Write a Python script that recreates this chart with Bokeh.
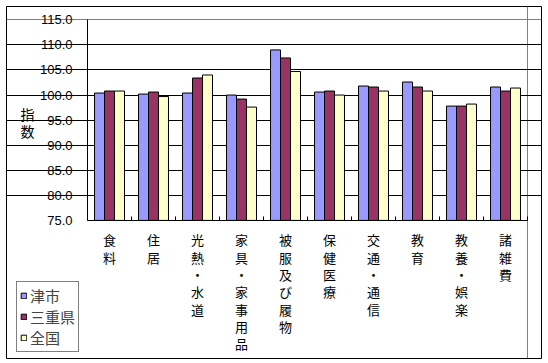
from bokeh.plotting import figure
from bokeh.models import FixedTicker, Legend, LegendItem, Label, Range1d, Grid
from bokeh.embed import file_html
from bokeh.resources import INLINE

categories = ["食料", "住居", "光熱・水道", "家具・家事用品", "被服及び履物",
              "保健医療", "交通・通信", "教育", "教養・娯楽", "諸雑費"]
tsu = [100.4, 100.2, 100.4, 100.0, 109.0, 100.6, 101.8, 102.6, 97.8, 101.6]
mie = [100.8, 100.6, 103.4, 99.2, 107.4, 100.8, 101.6, 101.6, 97.8, 100.8]
zenkoku = [100.8, 99.7, 104.0, 97.6, 104.7, 100.0, 100.8, 100.8, 98.2, 101.4]
series_names = ["津市", "三重県", "全国"]
series_colors = ["#9999FF", "#993366", "#FFFFCC"]
y_ticks = [75, 80, 85, 90, 95, 100, 105, 110, 115]
y_title = "指数"

JP = "Noto Sans CJK JP"
n = len(categories)
ymin, ymax = y_ticks[0], y_ticks[-1]

# frame = the outer bordered box; the plot area is placed inside it through the ranges
p = figure(width=545, height=360, output_backend="svg", toolbar_location=None,
           x_range=Range1d(-1.841, n + 0.318), y_range=Range1d(47.46, 117.66),
           min_border_left=6, min_border_right=4, min_border_top=6, min_border_bottom=2)

p.outline_line_color = "black"
p.outline_line_width = 1
p.border_fill_color = "white"

bw = 0.227
renderers = []
for k, (vals, col) in enumerate(zip([tsu, mie, zenkoku], series_colors)):
    xs = [i + 0.5 + (k - 1) * bw for i in range(n)]
    r = p.vbar(x=xs, top=vals, bottom=ymin, width=bw, fill_color=col,
               line_color="black", line_width=1)
    renderers.append(r)

# y axis, drawn at x = 0
ya = p.yaxis[0]
ya.fixed_location = 0
ya.bounds = (ymin, ymax)
ya.ticker = FixedTicker(ticks=y_ticks)
ya.major_label_overrides = {t: f"{t:.1f}" for t in y_ticks}
ya.major_tick_out = 0
ya.major_tick_in = 0
ya.minor_tick_line_color = None
ya.axis_line_color = "black"
ya.major_label_text_font = "Liberation Sans"
ya.major_label_text_font_size = "13px"
ya.major_label_text_color = "black"
ya.major_label_standoff = 15

# x axis, drawn at y = 75, category names stacked one character per line
xa = p.xaxis[0]
xa.fixed_location = ymin
xa.bounds = (0, n)
xa.ticker = FixedTicker(ticks=[i + 0.5 for i in range(n)], minor_ticks=list(range(n + 1)))
xa.major_label_overrides = {i + 0.5: "\n".join(list(c)) for i, c in enumerate(categories)}
xa.major_tick_line_color = None
xa.minor_tick_in = 4
xa.minor_tick_out = 0
xa.minor_tick_line_color = "black"
xa.axis_line_color = "black"
xa.major_label_text_font = JP
xa.major_label_text_font_size = "13px"
xa.major_label_text_color = "black"
xa.major_label_text_line_height = 0.91
xa.major_label_standoff = 4

# grid
p.ygrid.ticker = FixedTicker(ticks=y_ticks[1:-1])
p.ygrid.bounds = (0, n)
p.ygrid.grid_line_color = "black"
p.ygrid.grid_line_alpha = 1.0
p.xgrid.ticker = FixedTicker(ticks=[n])
p.xgrid.bounds = (ymin, ymax)
p.xgrid.grid_line_color = "#808080"
p.add_layout(Grid(dimension=1, ticker=FixedTicker(ticks=[ymax]), bounds=(0, n),
                  grid_line_color="#808080"))

# y axis title, upright characters stacked
for j, ch in enumerate(y_title):
    p.add_layout(Label(x=21, y=245 - j * 17, x_units="screen", y_units="screen",
                       text=ch, text_font=JP, text_font_size="14px",
                       text_align="center", text_baseline="middle", text_color="black"))

legend = Legend(items=[LegendItem(label=s, renderers=[r]) for s, r in zip(series_names, renderers)],
                location=(10, 6), orientation="vertical",
                label_text_font=JP, label_text_font_size="15px",
                glyph_width=7, glyph_height=7, label_standoff=3,
                spacing=0, padding=3, margin=0,
                border_line_color="black", border_line_width=1,
                background_fill_color="white", background_fill_alpha=1.0)
p.add_layout(legend, "center")

open("out.html", "w").write(file_html(p, INLINE))
